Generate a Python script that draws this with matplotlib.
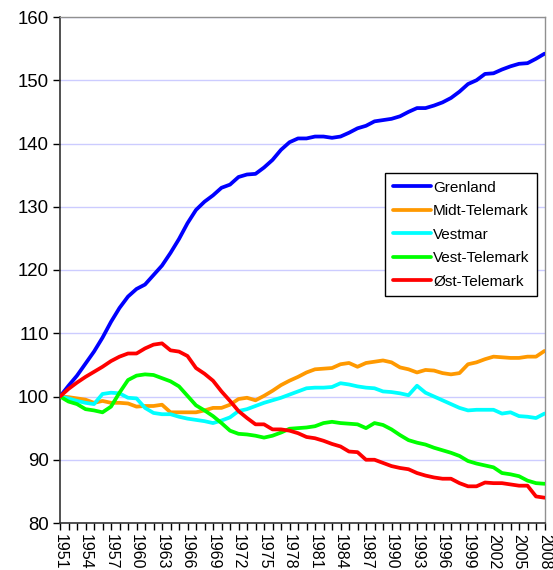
import matplotlib
matplotlib.use("Agg")
import matplotlib.pyplot as plt
from matplotlib.ticker import MultipleLocator, FixedLocator

plt.rcParams['font.family'] = ['Liberation Sans', 'DejaVu Sans']

years = list(range(1951, 2009))

grenland = [100, 101.7, 103.3, 105.2, 107.1, 109.3, 111.8, 114.0, 115.8, 117.0,
            117.7, 119.2, 120.7, 122.7, 124.9, 127.4, 129.5, 130.8, 131.8, 133.0,
            133.5, 134.7, 135.1, 135.2, 136.2, 137.4, 139.0, 140.2, 140.8, 140.8,
            141.1, 141.1, 140.9, 141.1, 141.7, 142.4, 142.8, 143.5, 143.7, 143.9,
            144.3, 145.0, 145.6, 145.6, 146.0, 146.5, 147.2, 148.2, 149.4, 150.0,
            151.0, 151.1, 151.7, 152.2, 152.6, 152.7, 153.4, 154.2]

midt_telemark = [100, 99.9, 99.7, 99.5, 99.0, 99.3, 99.0, 99.0, 98.9, 98.4,
                 98.5, 98.5, 98.7, 97.5, 97.5, 97.5, 97.5, 97.8, 98.2, 98.2,
                 98.7, 99.6, 99.8, 99.4, 100.1, 100.9, 101.8, 102.5, 103.1, 103.8,
                 104.3, 104.4, 104.5, 105.1, 105.3, 104.7, 105.3, 105.5, 105.7, 105.4,
                 104.6, 104.3, 103.8, 104.2, 104.1, 103.7, 103.5, 103.7, 105.1, 105.4,
                 105.9, 106.3, 106.2, 106.1, 106.1, 106.3, 106.3, 107.2]

vestmar = [100, 99.7, 99.3, 99.0, 98.8, 100.4, 100.6, 100.5, 99.8, 99.7,
           98.2, 97.4, 97.2, 97.2, 96.8, 96.5, 96.3, 96.1, 95.8, 96.2,
           96.7, 97.7, 98.0, 98.5, 99.0, 99.4, 99.8, 100.3, 100.8, 101.3,
           101.4, 101.4, 101.5, 102.1, 101.9, 101.6, 101.4, 101.3, 100.8, 100.7,
           100.5, 100.2, 101.7, 100.6, 100.0, 99.4, 98.8, 98.2, 97.8, 97.9,
           97.9, 97.9, 97.3, 97.5, 96.9, 96.8, 96.6, 97.3]

vest_telemark = [100, 99.2, 98.8, 98.0, 97.8, 97.5, 98.4, 100.6, 102.6, 103.3,
                 103.5, 103.4, 102.9, 102.4, 101.6, 100.1, 98.6, 97.8, 96.9, 95.8,
                 94.6, 94.1, 94.0, 93.8, 93.5, 93.8, 94.3, 94.9, 95.0, 95.1,
                 95.3, 95.8, 96.0, 95.8, 95.7, 95.6, 95.0, 95.8, 95.5, 94.8,
                 93.9, 93.1, 92.7, 92.4, 91.9, 91.5, 91.1, 90.6, 89.8, 89.4,
                 89.1, 88.8, 87.9, 87.7, 87.4, 86.7, 86.3, 86.2]

ost_telemark = [100, 101.2, 102.2, 103.1, 103.9, 104.7, 105.6, 106.3, 106.8, 106.8,
                107.6, 108.2, 108.4, 107.3, 107.1, 106.4, 104.5, 103.6, 102.5, 100.8,
                99.3, 97.7, 96.6, 95.6, 95.6, 94.8, 94.8, 94.6, 94.2, 93.6,
                93.4, 93.0, 92.5, 92.1, 91.3, 91.2, 90.0, 90.0, 89.5, 89.0,
                88.7, 88.5, 87.9, 87.5, 87.2, 87.0, 87.0, 86.3, 85.8, 85.8,
                86.4, 86.3, 86.3, 86.1, 85.9, 85.9, 84.2, 84.0]

series = [
    ("Grenland", grenland, "#0000ff"),
    ("Midt-Telemark", midt_telemark, "#ff9900"),
    ("Vestmar", vestmar, "#00ffff"),
    ("Vest-Telemark", vest_telemark, "#00ff00"),
    ("Øst-Telemark", ost_telemark, "#ff0000"),
]

label_years = list(range(1951, 2009, 3))

fig = plt.figure(figsize=(5.53, 5.70), dpi=100)
ax = fig.add_axes([60 / 553, 1 - 523 / 570, (544.5 - 60) / 553, (523 - 17) / 570])

for name, vals, col in series:
    ax.plot(years, vals, color=col, lw=2.7, label=name, solid_joinstyle='round',
            solid_capstyle='round', zorder=3)

ax.set_xlim(1951, 2008)
ax.set_ylim(80, 160)
ax.yaxis.set_major_locator(MultipleLocator(10))
ax.xaxis.set_major_locator(FixedLocator(years))
ax.set_xticklabels([str(y) if y in label_years else "" for y in years],
                   rotation=-90, fontsize=11.5)
ax.tick_params(axis='x', direction='out', length=5, width=1, pad=3, colors='black')
ax.tick_params(axis='y', direction='out', length=5, width=1, labelsize=13.4, pad=3)

ax.grid(axis='y', color='#ccccff', lw=1, zorder=0)
ax.set_axisbelow(True)

for s in ['top', 'right']:
    ax.spines[s].set_color('#909090')
    ax.spines[s].set_linewidth(1)
for s in ['left', 'bottom']:
    ax.spines[s].set_color('#333333')
    ax.spines[s].set_linewidth(1.2)

leg = ax.legend(loc='upper left', bbox_to_anchor=(385 / 553, 1 - 173 / 570),
                bbox_transform=fig.transFigure, borderaxespad=0, fancybox=False,
                edgecolor='black', framealpha=1, fontsize=11, handlelength=2.5,
                handletextpad=0.15, labelspacing=0.62, borderpad=0.5)
leg.get_frame().set_linewidth(1)

fig.savefig("out.png", dpi=100)
